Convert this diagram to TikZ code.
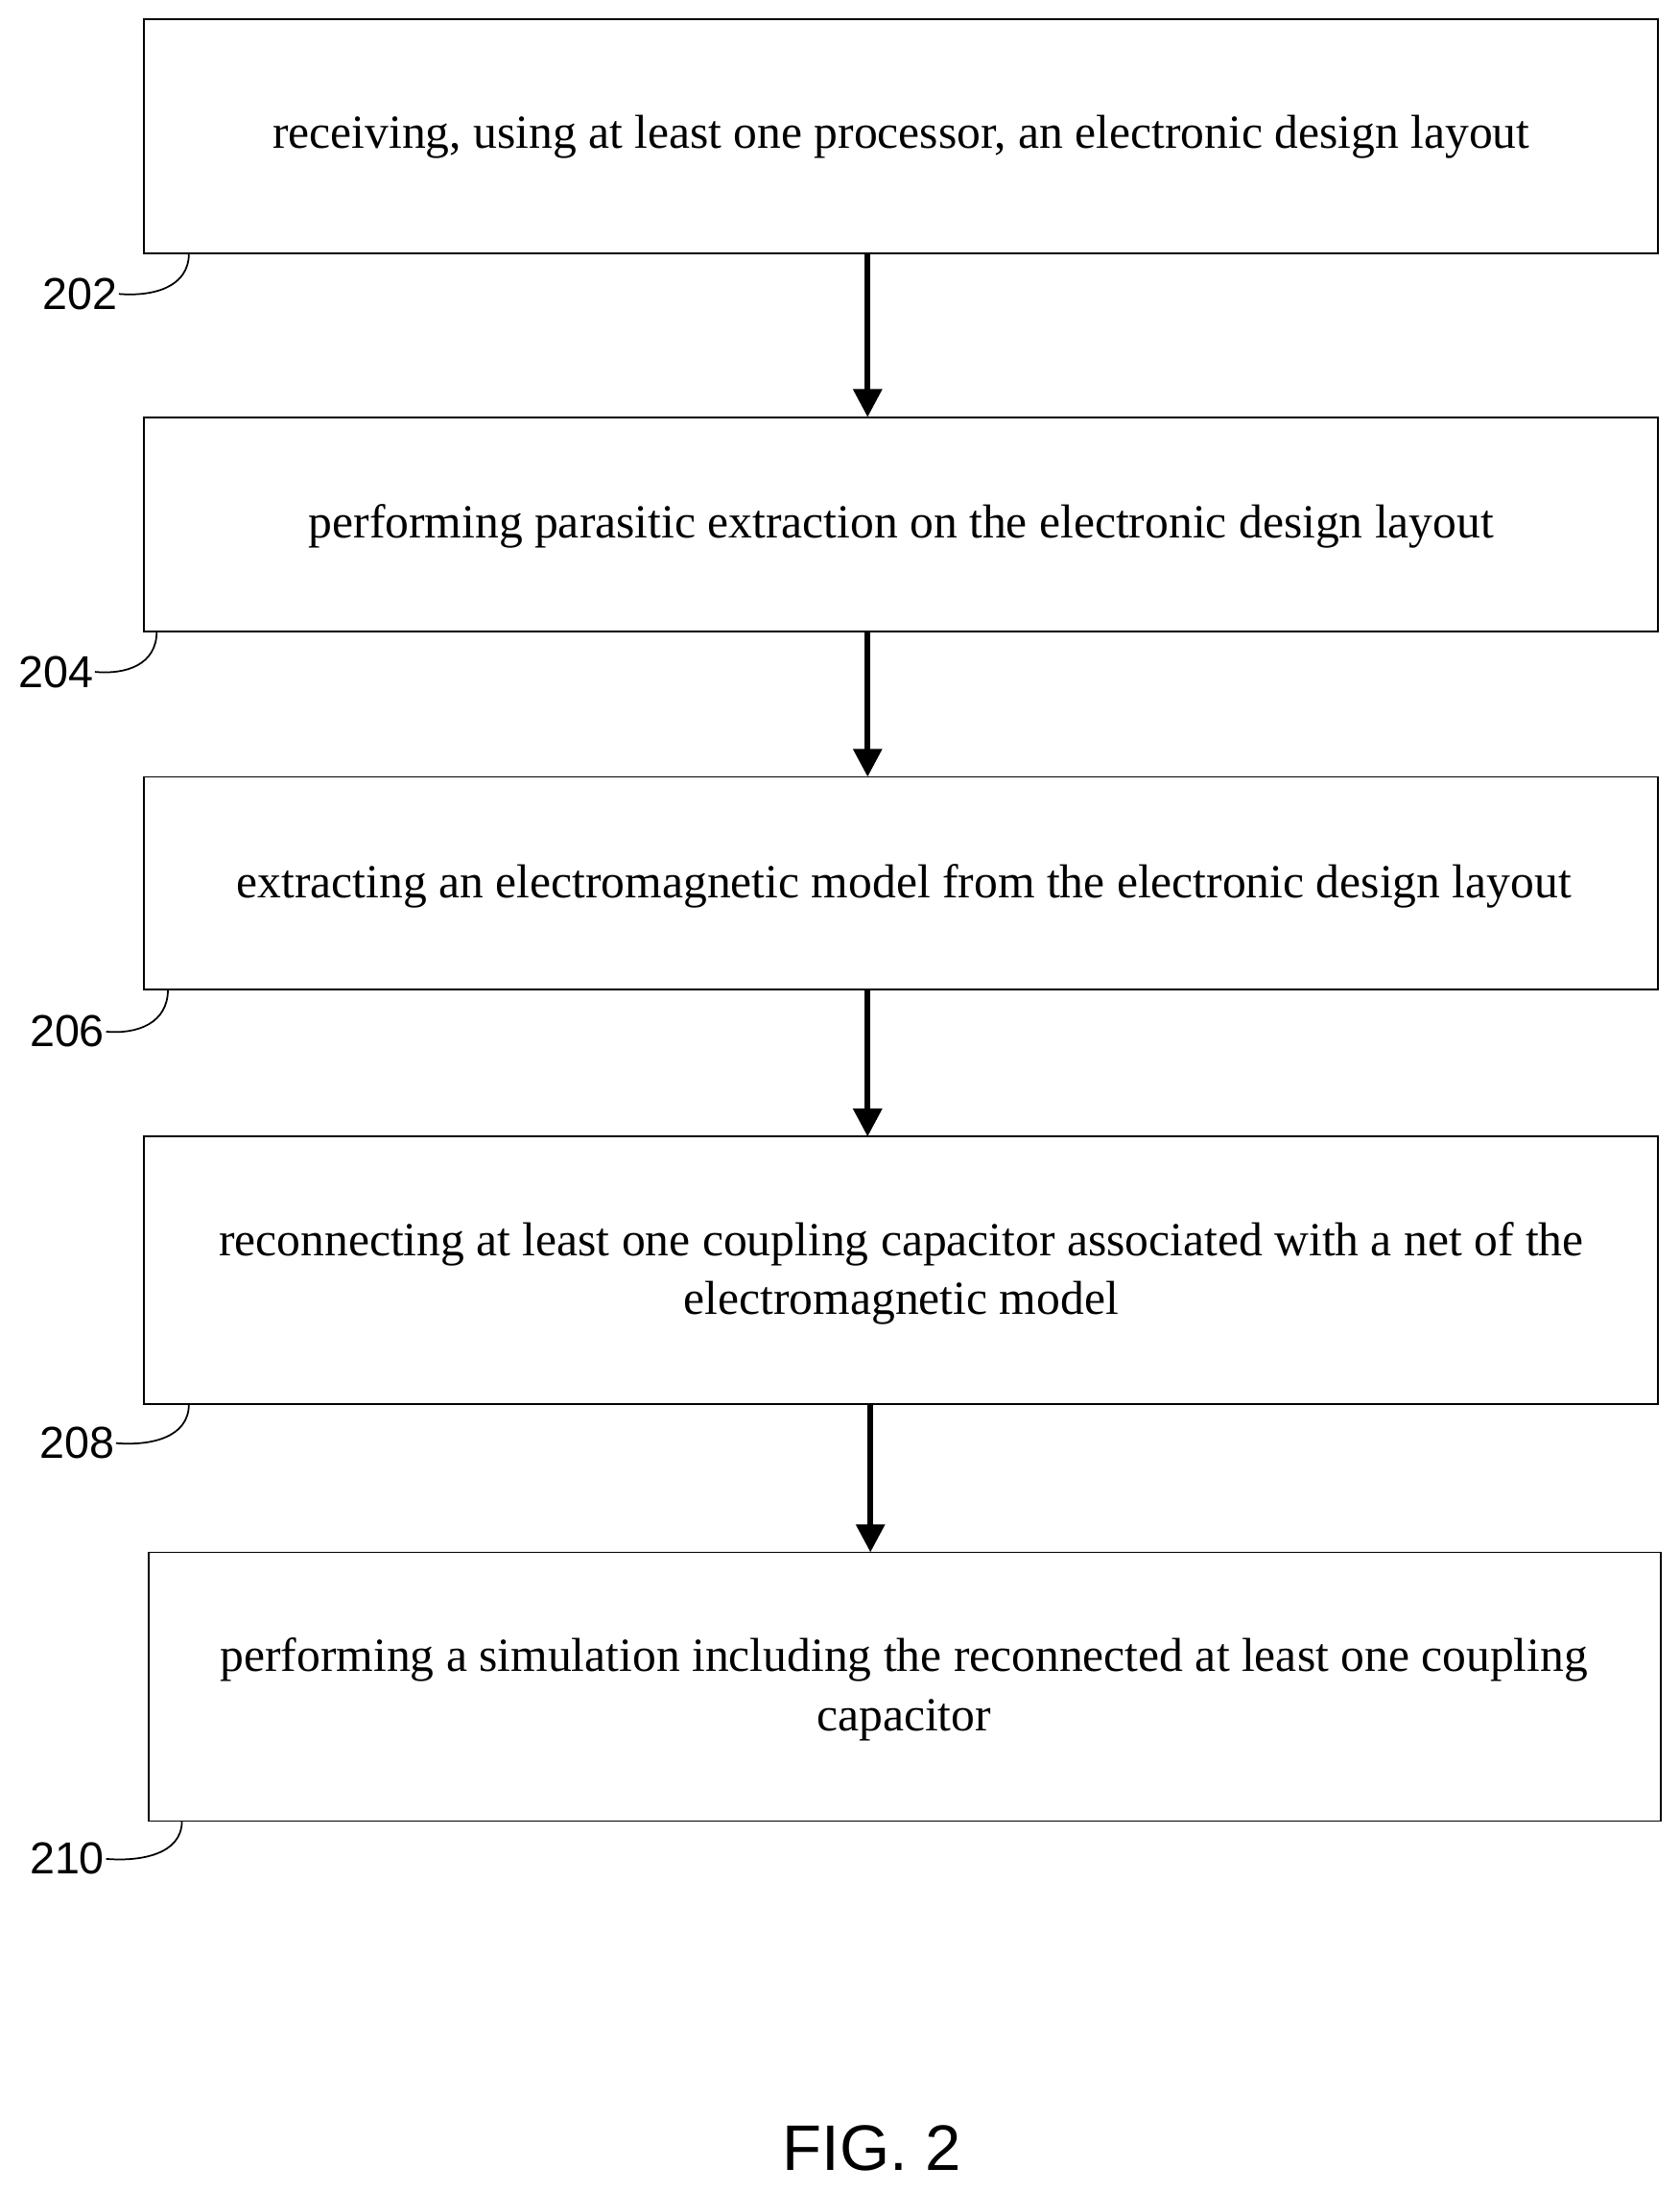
\documentclass[tikz,border=0pt]{standalone}
\usepackage{fontspec}
\usetikzlibrary{arrows.meta}
\setmainfont{Liberation Serif}
\newfontfamily\lab{Liberation Sans}
\begin{document}
\begin{tikzpicture}[x=1pt,y=-1pt,
 box/.style={draw,line width=1.3pt,inner sep=0pt},
 txt/.style={font=\fontsize{34}{42}\selectfont,align=center},
 arr/.style={line width=4pt,-{Triangle[length=20pt,width=20pt]}},
 num/.style={font=\lab\fontsize{32}{34}\selectfont,inner sep=1pt},
 lead/.style={line width=1.2pt}]
\useasboundingbox (0,0) rectangle (1200,1566);
\draw[box] (103,14) rectangle (1185,181);
\draw[box] (103,298) rectangle (1185,451);
\draw[box] (103,555) rectangle (1185,707);
\draw[box] (103,812) rectangle (1185,1003);
\draw[box] (106,1109) rectangle (1187,1301);
\node[txt] (t1) at (644,98) {receiving, using at least one processor, an electronic design layout};
\node[txt] (t2) at (644,376) {performing parasitic extraction on the electronic design layout};
\node[txt] (t3) at (646,633) {extracting an electromagnetic model from the electronic design layout};
\node[txt] (t4) at (644,910) {reconnecting at least one coupling capacitor associated with a net of the\\electromagnetic model};
\node[txt] (t5) at (646,1207) {performing a simulation including the reconnected at least one coupling\\capacitor};
\coordinate (a1) at (620,181); \coordinate (b1) at (620,298);
\coordinate (a2) at (620,451); \coordinate (b2) at (620,555);
\coordinate (a3) at (620,707); \coordinate (b3) at (620,812);
\coordinate (a4) at (622,1003); \coordinate (b4) at (622,1109);
\draw[arr] (a1) -- (b1); \draw[arr] (a2) -- (b2); \draw[arr] (a3) -- (b3); \draw[arr] (a4) -- (b4);
\node[num] (n1) at (57,210) {202};
\node[num] (n2) at (40,480) {204};
\node[num] (n3) at (48,737) {206};
\node[num] (n4) at (55,1031) {208};
\node[num] (n5) at (48,1328) {210};
\draw[lead] (135,181) .. controls (135,205) and (110,212) .. (n1.east);
\draw[lead] (112,451) .. controls (112,475) and (90,482) .. (n2.east);
\draw[lead] (120,707) .. controls (120,731) and (98,739) .. (n3.east);
\draw[lead] (135,1003) .. controls (135,1027) and (108,1033) .. (n4.east);
\draw[lead] (130,1301) .. controls (130,1325) and (100,1330) .. (n5.east);
\node[font=\lab\fontsize{46}{48}\selectfont] (fig) at (623,1535) {FIG. 2};
\end{tikzpicture}
\end{document}
